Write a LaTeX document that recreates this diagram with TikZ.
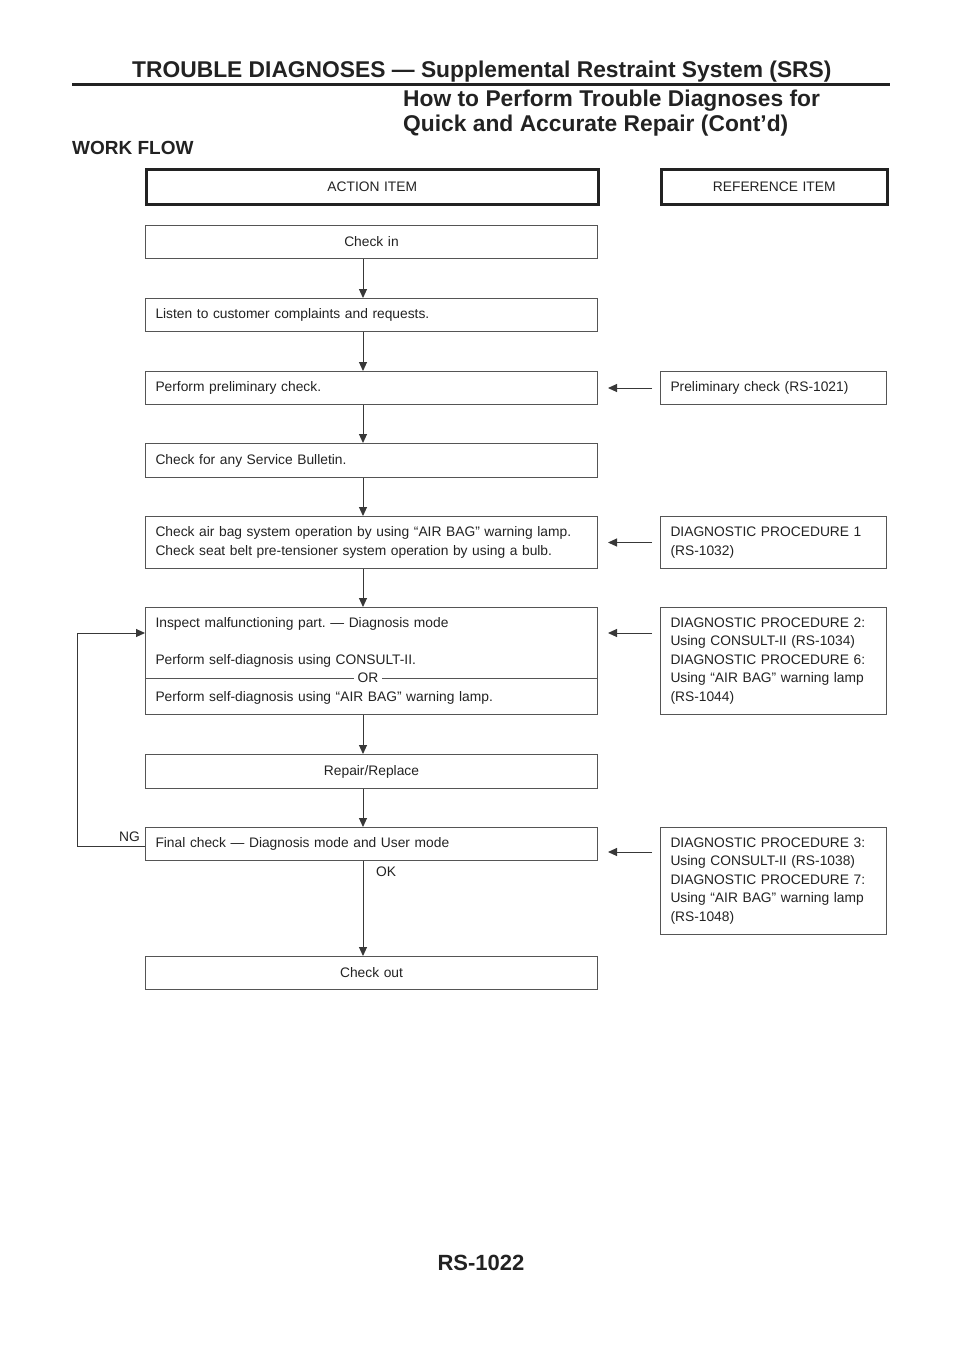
\documentclass[tikz,border=0pt]{standalone}
\usepackage{fontspec}
\setmainfont{Liberation Sans}
\usetikzlibrary{arrows.meta,calc}
\definecolor{ink}{HTML}{222222}
\definecolor{boxline}{HTML}{555555}
\frenchspacing
\begin{document}
\frenchspacing
\begin{tikzpicture}[x=1pt,y=-1pt,
  txt/.style={font=\fontsize{13.8}{18.5}\selectfont\frenchspacing, text=ink},
  box/.style={draw=boxline, line width=1pt, txt, anchor=north west,
    minimum height=#1, inner xsep=10pt, inner ysep=0pt},
  wide/.style={box=#1, text width=432pt, align=left},
  widec/.style={box=#1, text width=432pt, align=center},
  refbox/.style={box=#1, text width=206pt, align=left},
  headbox/.style={line width=2.5pt, draw=ink},
  arr/.style={draw=ink!90, line width=1pt, -{Triangle[length=9pt,width=8pt]}},
  refarr/.style={arr, shorten <=8pt, shorten >=10pt},
  hbig/.style={font=\fontsize{22.8}{26}\selectfont\bfseries, text=ink, inner sep=0pt, anchor=base west},
]
\useasboundingbox (0,0) rectangle (960,1358);

% header
\node[hbig] (title) at (132,77) {TROUBLE DIAGNOSES — Supplemental Restraint System (SRS)};
\coordinate (ruleL) at (72,84);
\coordinate (ruleR) at (890,84);
\draw[line width=3pt, ink] (ruleL) -- (ruleR);
\node[hbig] (sub1) at (403,106) {How to Perform Trouble Diagnoses for};
\node[hbig] (sub2) at (403,131) {Quick and Accurate Repair (Cont’d)};
\node[font=\fontsize{19}{22}\selectfont\bfseries, text=ink, inner sep=0pt, anchor=base west] (wf) at (72,154) {WORK FLOW};

% boxes
\node[widec=35pt, headbox] (action) at (145,168) {ACTION ITEM};
\node[refbox=35pt, align=center, headbox] (refhead) at (660,168) {REFERENCE ITEM};
\node[widec=33pt] (checkin) at (145,225) {Check in};
\node[wide=33pt] (listen) at (145,298) {Listen to customer complaints and requests.};
\node[wide=33pt] (prelim) at (145,371) {Perform preliminary check.};
\node[refbox=33pt] (prelimref) at (660,371) {Preliminary check (RS-1021)};
\node[wide=34pt] (bulletin) at (145,443) {Check for any Service Bulletin.};
\node[wide=52pt] (airbag) at (145,516) {Check air bag system operation by using “AIR BAG” warning lamp.\\Check seat belt pre-tensioner system operation by using a bulb.};
\node[refbox=52pt] (d1) at (660,516) {DIAGNOSTIC PROCEDURE 1\\(RS-1032)};
\node[wide=107pt] (inspect) at (145,607) {Inspect malfunctioning part. — Diagnosis mode\\\mbox{}\\Perform self-diagnosis using CONSULT-II.\\\mbox{}\\Perform self-diagnosis using “AIR BAG” warning lamp.};
\node[refbox=107pt] (d2) at (660,607) {DIAGNOSTIC PROCEDURE 2:\\Using CONSULT-II (RS-1034)\\DIAGNOSTIC PROCEDURE 6:\\Using “AIR BAG” warning lamp\\(RS-1044)};
\node[widec=34pt] (repair) at (145,754) {Repair/Replace};
\node[wide=33pt] (final) at (145,827) {Final check — Diagnosis mode and User mode};
\node[refbox=107pt] (d3) at (660,827) {DIAGNOSTIC PROCEDURE 3:\\Using CONSULT-II (RS-1038)\\DIAGNOSTIC PROCEDURE 7:\\Using “AIR BAG” warning lamp\\(RS-1048)};
\node[widec=33pt] (checkout) at (145,956) {Check out};

% OR divider
\coordinate (ory) at (0,678);
\draw[draw=boxline, line width=1pt] (inspect.west |- ory) -- (inspect.east |- ory);
\node[txt, fill=white, inner xsep=4pt, inner ysep=1pt] (or) at (368,677.5) {OR};

% main column arrows
\coordinate (col) at (363,0);
\draw[arr] (checkin.south -| col) -- (listen.north -| col);
\draw[arr] (listen.south -| col) -- (prelim.north -| col);
\draw[arr] (prelim.south -| col) -- (bulletin.north -| col);
\draw[arr] (bulletin.south -| col) -- (airbag.north -| col);
\draw[arr] (airbag.south -| col) -- (inspect.north -| col);
\draw[arr] (inspect.south -| col) -- (repair.north -| col);
\draw[arr] (repair.south -| col) -- (final.north -| col);
\draw[arr] (final.south -| col) -- (checkout.north -| col);

% reference arrows
\coordinate (a2) at (0,633);
\coordinate (a3) at (0,852);
\draw[refarr] (prelimref.west) -- (prelim.east);
\draw[refarr] (d1.west) -- (airbag.east);
\draw[refarr] (d2.west |- a2) -- (inspect.east |- a2);
\draw[refarr] (d3.west |- a3) -- (final.east |- a3);

% NG loop
\coordinate (loopx) at (77,0);
\coordinate (ngy) at (0,846);
\draw[arr] (final.west |- ngy) -- (loopx |- ngy) -- (loopx |- a2) -- (inspect.west |- a2);
\node[txt, anchor=east, inner sep=0pt] (ng) at (140,837) {NG};
\node[txt, inner sep=0pt] (ok) at (386,872) {OK};

% footer
\node[font=\fontsize{22}{26}\selectfont\bfseries, text=ink, inner sep=0pt, anchor=base] (page) at (481,1270) {RS-1022};
\end{tikzpicture}
\end{document}
